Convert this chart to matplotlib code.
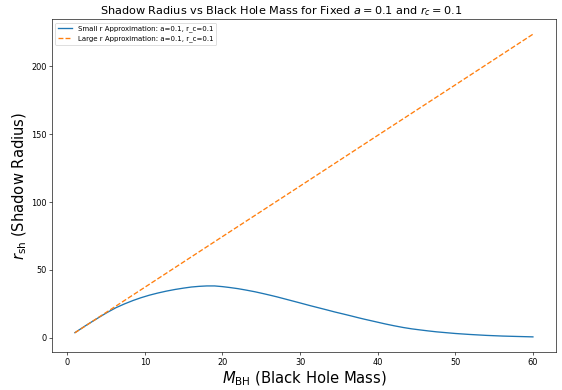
import matplotlib
matplotlib.use("Agg")
import matplotlib.pyplot as plt

# Blue: small r approximation
mass_small = [1, 2.5, 4.2, 5.2, 6.3, 7.4, 8.5, 9.5, 10.6, 11.7, 12.8, 13.9, 15.0, 16.0, 17.0,
              18.0, 19.0, 20.0, 21.0, 22.0, 23.0, 24.2, 25.3, 26.2, 27.0, 28.4, 29.8, 31.3,
              32.4, 33.5, 34.5, 35.6, 36.6, 37.5, 38.3, 39.0, 40.0, 41.0, 42.1, 43.3, 44.4,
              45.5, 46.5, 47.6, 48.8, 50.0, 51.8, 54.0, 56.1, 58.0, 60.0]
r_small = [3.8, 9.4, 15.4, 18.8, 22.2, 25.0, 27.5, 29.5, 31.4, 33.0, 34.4, 35.6, 36.6, 37.4,
           37.9, 38.2, 38.2, 37.7, 37.0, 36.2, 35.2, 33.9, 32.5, 31.3, 30.2, 28.1, 26.0,
           23.7, 22.1, 20.5, 19.0, 17.5, 16.1, 14.8, 13.7, 12.8, 11.5, 10.2, 8.9, 7.6, 6.6,
           5.8, 5.1, 4.4, 3.8, 3.2, 2.5, 1.8, 1.3, 1.0, 0.7]

# Orange: large r approximation
mass_large = [1, 10, 20, 30, 40, 50, 60]
r_large = [3.7, 37.2, 74.5, 111.7, 149.0, 186.2, 223.5]

fig = plt.figure(figsize=(10, 6.94), dpi=56.2)
ax = fig.add_axes([0.0925, 0.0974, 0.8965, 0.8536])
ax.plot(mass_small, r_small, color='#1f77b4', linestyle='-', linewidth=1.7,
        label='Small r Approximation: a=0.1, r_c=0.1')
ax.plot(mass_large, r_large, color='#ff7f0e', linestyle='--', linewidth=1.7,
        label='Large r Approximation: a=0.1, r_c=0.1')
ax.set_title(r'Shadow Radius vs Black Hole Mass for Fixed $a = 0.1$ and $r_c = 0.1$',
             fontsize=14.5, x=0.4545)
ax.set_xlabel(r'$M_{\rm BH}$ (Black Hole Mass)', fontsize=19)
ax.set_ylabel(r'$r_{\rm sh}$ (Shadow Radius)', fontsize=19, labelpad=2)
ax.tick_params(labelsize=10.5)
ax.legend(loc='upper left', fontsize=9)
fig.savefig('out.png', dpi=56.2)
